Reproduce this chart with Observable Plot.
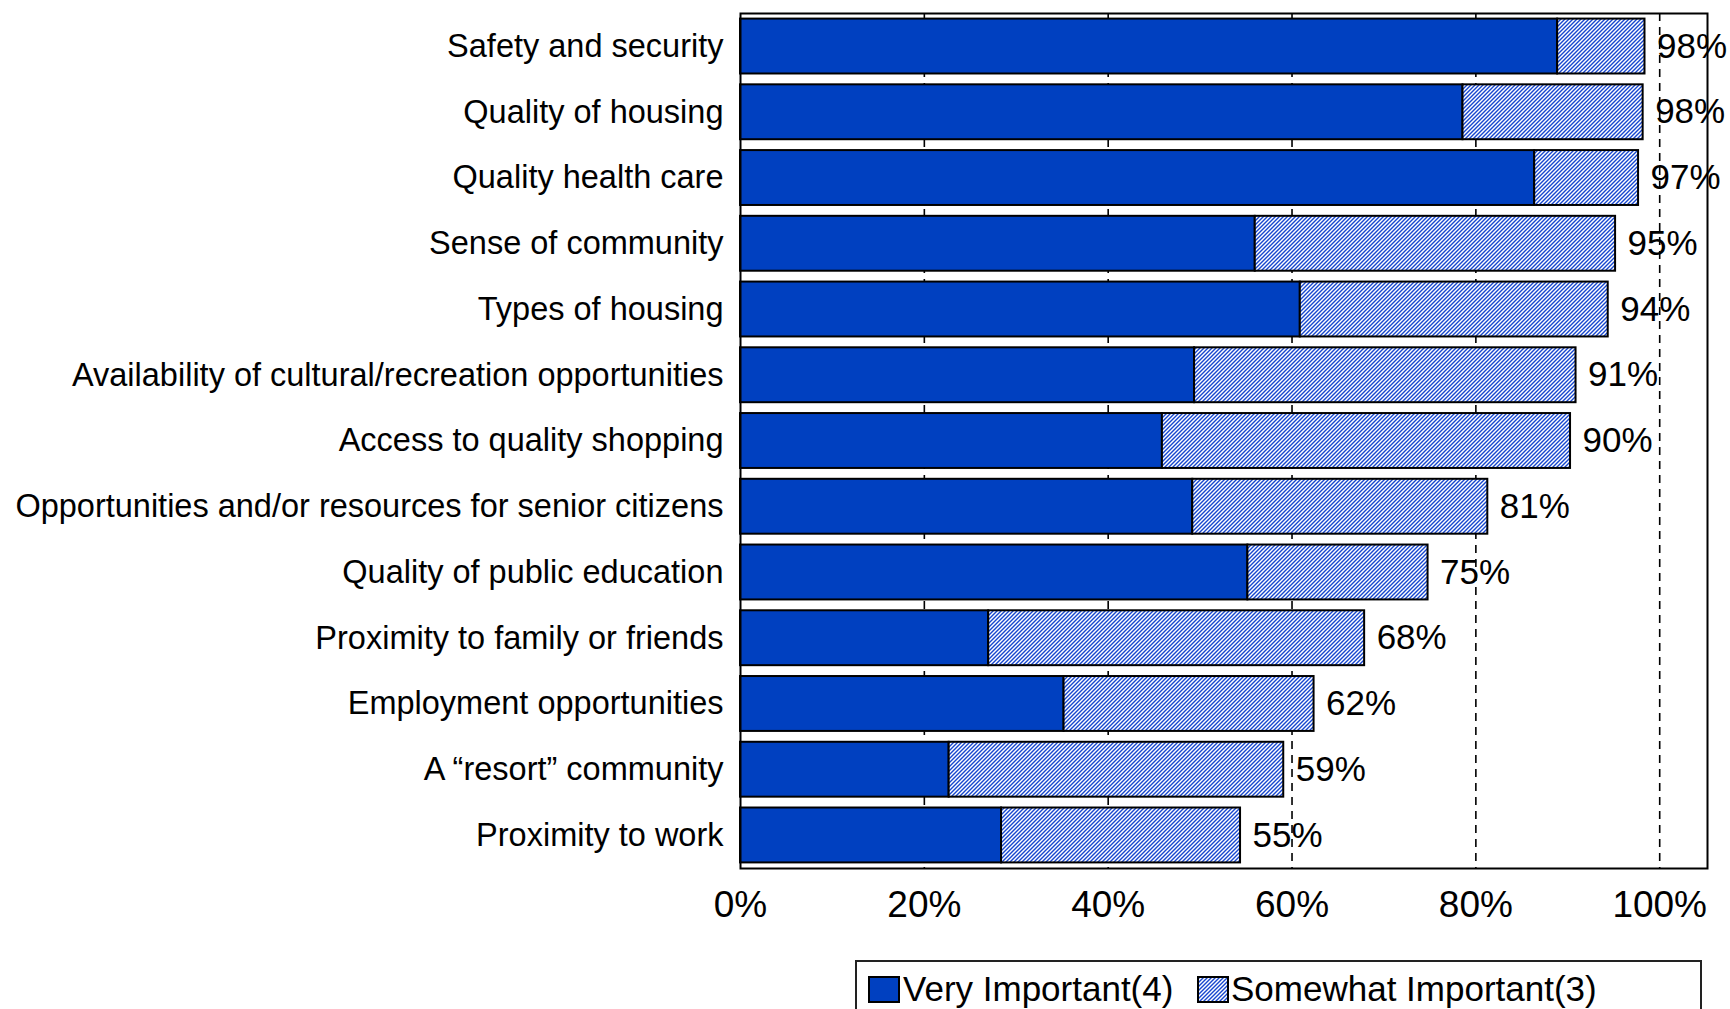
<!DOCTYPE html>
<html>
<head>
<meta charset="utf-8">
<script src="https://cdn.jsdelivr.net/npm/d3@7"></script>
<script src="https://cdn.jsdelivr.net/npm/@observablehq/plot@0.6"></script>
<style>
  html, body { margin: 0; padding: 0; background: #fff; }
  body { width: 1730px; height: 1009px; position: relative; overflow: hidden;
         font-family: "Liberation Sans", Arial, sans-serif; color: #000; }
  #chart { position: absolute; left: 0; top: 0; }
  #chart svg { overflow: visible; }
  #legend { position: absolute; left: 855px; top: 960px; width: 847px; height: 80px;
            border: 2px solid #222; background: #fff; box-sizing: border-box; }
  #legend .sw { position: absolute; top: 14px; width: 32px; height: 27px; box-sizing: border-box;
                border: 2px solid #000; }
  #legend .lab { position: absolute; top: 9px; font-size: 35px; line-height: 35px; white-space: nowrap; }
</style>
</head>
<body>
<svg width="0" height="0" style="position:absolute">
  <defs>
    <pattern id="hatch" patternUnits="userSpaceOnUse" width="4" height="4">
      <rect width="4" height="4" fill="#ffffff"></rect>
      <path d="M-1,1 L1,-1 M0,4 L4,0 M3,5 L5,3" stroke="#1646cf" stroke-width="1.4"></path>
    </pattern>
  </defs>
</svg>
<div id="chart"></div>
<div id="legend"></div>
<script>
// ---- data ----
const categories = [
  "Safety and security",
  "Quality of housing",
  "Quality health care",
  "Sense of community",
  "Types of housing",
  "Availability of cultural/recreation opportunities",
  "Access to quality shopping",
  "Opportunities and/or resources for senior citizens",
  "Quality of public education",
  "Proximity to family or friends",
  "Employment opportunities",
  "A \u201cresort\u201d community",
  "Proximity to work"
];
const veryImportant     = [88.9, 78.6, 86.4, 56.0, 60.9, 49.4, 45.9, 49.2, 55.2, 27.0, 35.2, 22.7, 28.4];
const somewhatImportant = [ 9.5, 19.6, 11.3, 39.2, 33.5, 41.5, 44.4, 32.1, 19.6, 40.9, 27.2, 36.4, 26.0];
const totalLabels       = [98, 98, 97, 95, 94, 91, 90, 81, 75, 68, 62, 59, 55];
const seriesNames = ["Very Important(4)", "Somewhat Important(3)"];
const seriesFills = ["#0040c0", "url(#hatch)"];
const xTicks = [0, 20, 40, 60, 80, 100];
const gridTicks = [20, 40, 60, 80, 100];

// ---- tables built from the arrays ----
const rows = [];
categories.forEach((c, i) => {
  rows.push({category: c, series: seriesNames[0], value: veryImportant[i]});
  rows.push({category: c, series: seriesNames[1], value: somewhatImportant[i]});
});
const totals = categories.map((c, i) => ({
  category: c,
  end: veryImportant[i] + somewhatImportant[i],
  label: totalLabels[i] + "%"
}));

const font = "'Liberation Sans', Arial, sans-serif";

const chart = Plot.plot({
  width: 1730,
  height: 950,
  marginLeft: 740,
  marginRight: 23,
  marginTop: 13,
  marginBottom: 82,
  style: {fontFamily: font, fontSize: "33px", color: "#000", background: "transparent", overflow: "visible"},
  x: {domain: [0, 105.2]},
  y: {domain: categories, paddingInner: 0.165, paddingOuter: 0.085, round: false},
  color: {domain: seriesNames, range: seriesFills},
  marks: [
    Plot.ruleX(gridTicks, {stroke: "#000", strokeWidth: 1.6, strokeDasharray: "8,6"}),
    Plot.barX(rows, Plot.stackX({y: "category", x: "value", fill: "series", stroke: "#000", strokeWidth: 2})),
    Plot.text(totals, {x: "end", y: "category", text: "label", textAnchor: "start", dx: 12, fontSize: 35, fill: "#000"}),
    Plot.frame({stroke: "#000", strokeWidth: 2}),
    Plot.axisX({ticks: xTicks, tickFormat: d => d + "%", tickSize: 0, tickPadding: 22, fontSize: 37, label: null}),
    Plot.axisY({tickSize: 0, tickPadding: 17, fontSize: 32.5, label: null})
  ]
});
document.getElementById("chart").appendChild(chart);

// ---- legend (HTML below the SVG) ----
const legend = document.getElementById("legend");
const swatchLeft = [11, 340];
const labelLeft = [46, 374];
seriesNames.forEach((name, i) => {
  const sw = document.createElement("div");
  sw.className = "sw";
  sw.style.left = swatchLeft[i] + "px";
  if (i === 0) {
    sw.style.background = seriesFills[0];
  } else {
    sw.innerHTML = '<svg width="28" height="23" style="display:block"><rect width="28" height="23" fill="url(#hatch)"></rect></svg>';
  }
  legend.appendChild(sw);
  const lab = document.createElement("div");
  lab.className = "lab";
  lab.style.left = labelLeft[i] + "px";
  lab.textContent = name;
  legend.appendChild(lab);
});
</script>
</body>
</html>
